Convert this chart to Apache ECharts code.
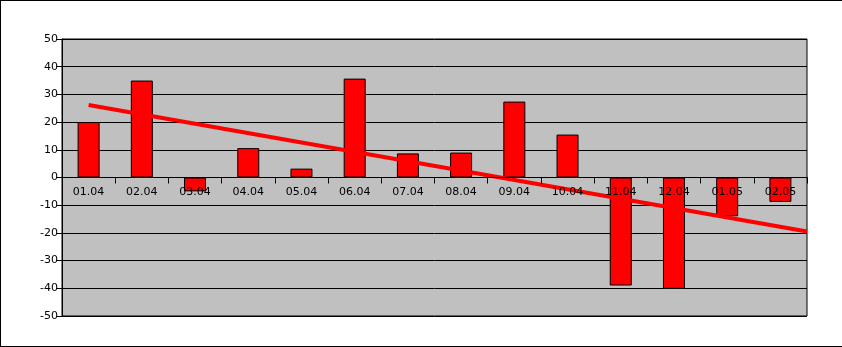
<!DOCTYPE html>
<html>
<head>
<meta charset="utf-8">
<script src="https://cdn.jsdelivr.net/npm/echarts@6/dist/echarts.min.js"></script>
<style>
  html, body { margin: 0; padding: 0; background: #fff; }
  #frame { position: absolute; left: 0; top: 0; width: 841px; height: 345px;
           border-top: 1px solid #000; border-left: 1px solid #000; border-bottom: 1px solid #000; }
  #chart { position: absolute; left: 0; top: 0; width: 842px; height: 347px; }
</style>
</head>
<body>
<div id="frame"></div>
<div id="chart"></div>
<script>
// Categories (month.year)
const categories = ['01.04','02.04','03.04','04.04','05.04','06.04','07.04','08.04','09.04','10.04','11.04','12.04','01.05','02.05'];
// Bar values
const values = [20, 35, -5, 10.6, 3.2, 35.7, 8.7, 9, 27.4, 15.5, -39, -40.2, -14, -8.8];
// Trend line: value at first category centre and at right edge of plot
const trendX = [0, 13.5];
const trendY = [26.2, -19.5];
// Y axis range
const yMin = -50, yMax = 50, yStep = 10;

const chart = echarts.init(document.getElementById('chart'), null, { renderer: 'canvas' });
const font = 'DejaVu Sans';
const gridPos = { left: 62, right: 35, top: 39, bottom: 31 };
// place the category axis at the y = 0 line of the grid
const plotH = 347 - gridPos.top - gridPos.bottom;
const zeroOffset = -plotH * (0 - yMin) / (yMax - yMin);
chart.setOption({
  animation: false,
  backgroundColor: 'transparent',
  grid: [
    Object.assign({ show: true, backgroundColor: '#c0c0c0', borderColor: '#000', borderWidth: 1 }, gridPos),
    Object.assign({ show: false }, gridPos)
  ],
  xAxis: [
    {
      type: 'category',
      gridIndex: 0,
      data: categories,
      z: 5,
      position: 'bottom',
      offset: zeroOffset,
      axisLine: { onZero: false, lineStyle: { color: '#000', width: 1 } },
      axisTick: { show: true, alignWithLabel: false, length: 6, lineStyle: { color: '#000' } },
      axisLabel: { color: '#000', fontFamily: font, fontSize: 11, margin: 9 },
      splitLine: { show: false }
    },
    {
      type: 'value',
      gridIndex: 1,
      min: -0.5, max: 13.5,
      show: false,
      splitLine: { show: false }
    }
  ],
  yAxis: [
    {
      type: 'value',
      gridIndex: 0,
      min: yMin, max: yMax, interval: yStep,
      axisLine: { show: true, onZero: false, lineStyle: { color: '#000', width: 1 } },
      axisTick: { show: true, length: 6, lineStyle: { color: '#000' } },
      axisLabel: { color: '#000', fontFamily: font, fontSize: 11, margin: 4 },
      splitLine: { show: true, lineStyle: { color: '#000', width: 1 } }
    },
    {
      type: 'value',
      gridIndex: 1,
      min: yMin, max: yMax,
      show: false,
      splitLine: { show: false }
    }
  ],
  series: [
    {
      type: 'bar',
      xAxisIndex: 0, yAxisIndex: 0,
      data: values,
      barWidth: 22,
      itemStyle: { color: '#ff0000', borderColor: '#000', borderWidth: 1 },
      z: 2
    },
    {
      type: 'line',
      xAxisIndex: 1, yAxisIndex: 1,
      data: trendX.map((x, i) => [x, trendY[i]]),
      symbol: 'none',
      lineStyle: { color: '#ff0000', width: 4 },
      z: 3
    }
  ]
});
</script>
</body>
</html>
